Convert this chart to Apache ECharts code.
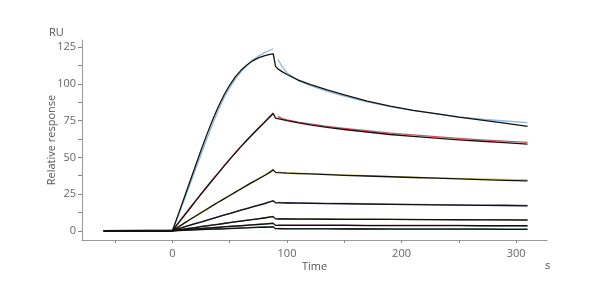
<!DOCTYPE html>
<html><head><meta charset="utf-8">
<script src="https://cdn.jsdelivr.net/npm/echarts@6/dist/echarts.min.js"></script>
<style>html,body{margin:0;padding:0;background:#fff}#c{width:600px;height:300px}</style>
</head><body><div id="c"></div>
<script>
// Time points (s)
const times = [-60, 0, 5, 10, 15, 20, 25, 30, 35, 40, 45, 50, 55, 60, 65, 70, 75, 80, 85, 88,
               90, 92, 96, 100, 110, 120, 135, 150, 170, 190, 210, 230, 250, 270, 290, 310];

// Fitted curves (black)
const fit1 = [0, 0, 11, 22, 33, 44, 55, 65.5, 75.5, 84.5, 92.5, 99.3, 105, 109.5, 113, 115.8, 117.8, 119.2, 120.2, 120.5,
              112, 110.3, 108.3, 106.5, 102.7, 99.8, 96, 92.6, 88.3, 85, 82.1, 79.8, 77.4, 75.4, 73.4, 71.2];
const fit2 = [0, 0, 5, 10, 15, 20, 24.9, 29.8, 34.6, 39.3, 44, 48.6, 53.1, 57.5, 61.7, 65.8, 69.7, 73.5, 77.5, 79.8,
              76.7, 76.4, 75.7, 75, 73.5, 72.2, 70.5, 69, 67.3, 65.6, 64.3, 63.1, 62, 61, 60, 59.1];
const fit3 = [0, 0, 2.5, 5, 7.5, 9.9, 12.3, 14.7, 17.1, 19.4, 21.7, 24, 26.3, 28.6, 30.9, 33.1, 35.3, 37.5, 39.8, 41.5,
              39.8, 39.6, 39.5, 39.3, 39, 38.7, 38.3, 37.8, 37.3, 36.8, 36.3, 35.8, 35.3, 34.9, 34.4, 34];
const fit4 = [0, 0, 1.2, 2.4, 3.6, 4.8, 5.9, 7.1, 8.3, 9.4, 10.6, 11.7, 12.9, 14, 15.1, 16.2, 17.3, 18.4, 19.6, 20.4,
              19.1, 19, 19, 18.9, 18.8, 18.7, 18.5, 18.4, 18.2, 18, 17.8, 17.6, 17.5, 17.3, 17.2, 17];
const fit5 = [0, 0, 0.55, 1.1, 1.65, 2.2, 2.75, 3.3, 3.85, 4.4, 4.95, 5.5, 6.05, 6.6, 7.1, 7.6, 8.15, 8.7, 9.25, 9.6,
              8.1, 8, 8, 8, 7.95, 7.9, 7.85, 7.8, 7.75, 7.7, 7.6, 7.55, 7.5, 7.45, 7.4, 7.3];
const fit6 = [0, 0, 0.3, 0.6, 0.9, 1.2, 1.5, 1.8, 2.05, 2.3, 2.6, 2.9, 3.15, 3.4, 3.7, 4, 4.25, 4.5, 4.8, 5,
              3.7, 3.7, 3.7, 3.7, 3.65, 3.6, 3.6, 3.6, 3.55, 3.5, 3.5, 3.5, 3.45, 3.4, 3.4, 3.4];
const fit7 = [0, 0, 0.15, 0.3, 0.45, 0.6, 0.75, 0.9, 1.05, 1.2, 1.35, 1.5, 1.65, 1.8, 1.95, 2.1, 2.25, 2.4, 2.55, 2.7,
              1.4, 1.4, 1.35, 1.3, 1.3, 1.3, 1.25, 1.2, 1.2, 1.15, 1.1, 1.1, 1.05, 1.05, 1.0, 1.0];

// Measured curves (coloured); null = gap at injection stop
const meas1 = [0, 0.5, 10, 20.5, 31, 41.5, 52, 62.5, 72.5, 82, 90.5, 97.5, 103.5, 108.5, 112.7, 116.3, 119, 121.2, 123, 124,
               null, 116.8, 111.5, 107.5, 102.2, 99, 95, 91.8, 87.8, 84.6, 82, 79.6, 77.6, 76, 74.8, 73.7];
const meas2 = [0, 0.5, 5.3, 10.4, 15.4, 20.3, 25.2, 30, 34.8, 39.5, 44.2, 48.8, 53.3, 57.7, 61.9, 66, 70, 73.9, 78, 80.4,
               null, 78, 76.4, 75.5, 74, 72.8, 71.2, 69.8, 68.2, 66.6, 65.3, 64.1, 63, 62, 61.1, 60.3];
const meas3 = [0, 0.4, 2.7, 5.2, 7.7, 10.1, 12.5, 14.9, 17.3, 19.6, 21.9, 24.2, 26.5, 28.8, 31.1, 33.3, 35.5, 37.7, 40.1, 42,
               null, 40.2, 39.8, 39.6, 39.3, 39, 38.6, 38.1, 37.6, 37.1, 36.6, 36.1, 35.7, 35.3, 35, 34.8];
const meas4 = [0, 0.3, 1.4, 2.6, 3.8, 5, 6.1, 7.3, 8.5, 9.6, 10.8, 11.9, 13.1, 14.2, 15.3, 16.4, 17.5, 18.6, 19.8, 20.6,
               null, 19.4, 19.2, 19.1, 19, 18.9, 18.7, 18.6, 18.4, 18.2, 18, 17.8, 17.7, 17.5, 17.4, 17.2];
const meas5 = [0, 0.2, 0.7, 1.2, 1.8, 2.3, 2.9, 3.4, 4, 4.5, 5.1, 5.6, 6.2, 6.7, 7.2, 7.7, 8.3, 8.8, 9.4, 9.8,
               null, 8.3, 8.2, 8.1, 8.05, 8, 7.95, 7.9, 7.85, 7.8, 7.7, 7.65, 7.6, 7.55, 7.5, 7.4];
const meas6 = [0, 0.2, 0.45, 0.7, 1.05, 1.35, 1.65, 1.95, 2.2, 2.45, 2.75, 3.05, 3.3, 3.55, 3.85, 4.15, 4.4, 4.65, 4.95, 5.15,
               null, 3.9, 3.85, 3.85, 3.8, 3.75, 3.75, 3.75, 3.7, 3.65, 3.65, 3.65, 3.6, 3.55, 3.55, 3.55];
const meas7 = [0, 0.1, 0.3, 0.45, 0.6, 0.75, 0.9, 1.05, 1.2, 1.35, 1.5, 1.65, 1.8, 1.95, 2.1, 2.25, 2.4, 2.55, 2.7, 2.85,
               null, 1.55, 1.5, 1.45, 1.45, 1.45, 1.4, 1.35, 1.35, 1.3, 1.25, 1.25, 1.2, 1.2, 1.15, 1.15];

const measColors = ['#8fb9dd', '#d4505c', '#d9cd55', '#7a70a8', '#72704f', '#7d4d6c', '#3f8a6a'];

// Tick values & labels
const xTicks = [-50, 0, 50, 100, 150, 200, 250, 300];
const xLabels = [0, 100, 200, 300];
const yTicks = [0, 12.5, 25, 37.5, 50, 62.5, 75, 87.5, 100, 112.5, 125];
const yLabels = [0, 25, 50, 75, 100, 125];

const fits = [fit1, fit2, fit3, fit4, fit5, fit6, fit7];
const meas = [meas1, meas2, meas3, meas4, meas5, meas6, meas7];

const toData = arr => times.map((t, i) => [t, arr[i] == null ? '-' : arr[i]]);

const series = [];
meas.forEach((m, i) => series.push({
  type: 'line', data: toData(m), showSymbol: false, smooth: false,
  lineStyle: { color: measColors[i], width: 1.3, join: 'round' }, z: 2, silent: true
}));
fits.forEach(f => series.push({
  type: 'line', data: toData(f), showSymbol: false, smooth: false,
  lineStyle: { color: '#111', width: 1.3, join: 'round' }, z: 3, silent: true
}));

const font = '"Open Sans", "DejaVu Sans", sans-serif';
const chart = echarts.init(document.getElementById('c'), null, { renderer: 'canvas' });
chart.setOption({
  animation: false,
  backgroundColor: '#fff',
  grid: { left: 82, right: 53, top: 40, bottom: 60, containLabel: false },
  xAxis: {
    type: 'value', min: -79, max: 327,
    name: 'Time', nameLocation: 'middle', nameGap: 21, nameMoveOverlap: false,
    nameTextStyle: { color: '#555', fontSize: 11, fontFamily: font },
    axisLine: { show: true, onZero: false, lineStyle: { color: '#999', width: 1 } },
    axisTick: { show: true, length: 3, customValues: xTicks, lineStyle: { color: '#888' } },
    axisLabel: { customValues: xLabels, color: '#666', fontSize: 11, fontFamily: font, margin: 8 },
    splitLine: { show: false }
  },
  yAxis: {
    type: 'value', min: -6.3, max: 130,
    name: 'Relative response', nameLocation: 'middle', nameGap: 25, nameMoveOverlap: false,
    nameTextStyle: { color: '#555', fontSize: 11, fontFamily: font },
    axisLine: { show: true, onZero: false, lineStyle: { color: '#999', width: 1 } },
    axisTick: { show: true, length: 4, customValues: yTicks, lineStyle: { color: '#888' } },
    axisLabel: { customValues: yLabels, color: '#666', fontSize: 11, fontFamily: font, margin: 6 },
    splitLine: { show: false }
  },
  graphic: [
    { type: 'text', left: 49, top: 27, style: { text: 'RU', fill: '#555', font: '11px ' + font } },
    { type: 'text', left: 545, top: 260, style: { text: 's', fill: '#555', font: '11px ' + font } }
  ],
  series: series
});
</script>
</body></html>
